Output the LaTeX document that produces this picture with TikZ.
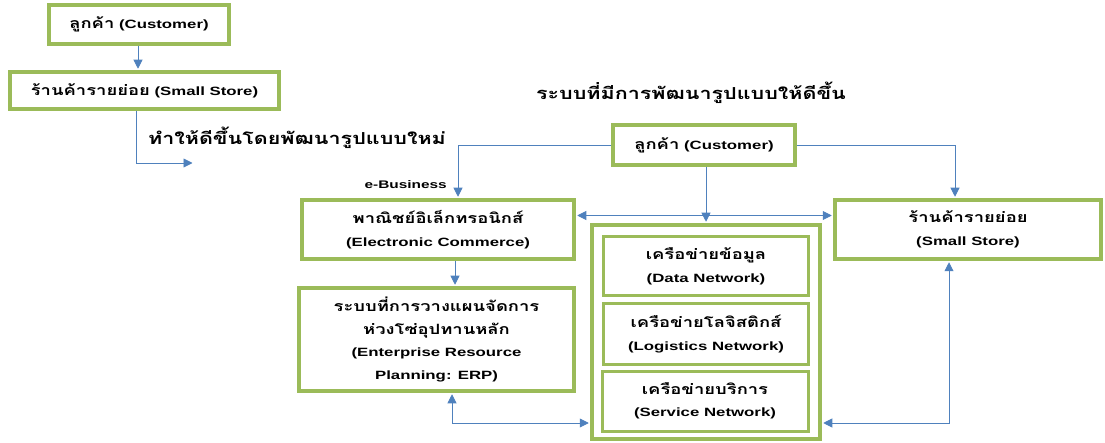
\documentclass[tikz,border=0pt]{standalone}
\usepackage{fontspec}
\setmainfont{Liberation Sans}[FakeStretch=1.4]
\newfontfamily\thai[Script=Thai,FakeStretch=1.3,Scale=1.18]{Loma}
\usetikzlibrary{arrows.meta,calc}
\definecolor{gr}{HTML}{9BBB59}
\definecolor{bl}{HTML}{4F81BD}
\begin{document}
\begin{tikzpicture}[x=1pt,y=-1pt,
 box/.style={draw=gr, line width=3.5pt, fill=white, align=center, inner sep=0pt,
   font=\bfseries\fontsize{12}{22.5}\selectfont},
 inbox/.style={box, line width=3pt},
 lbl/.style={inner sep=0pt, font=\bfseries\fontsize{14}{16}\selectfont},
 arr/.style={draw=bl, line width=0.9pt, -{Triangle[length=9pt,width=9pt]}, shorten >=1.5pt},
 darr/.style={draw=bl, line width=0.9pt, {Triangle[length=9pt,width=9pt]}-{Triangle[length=9pt,width=9pt]}, shorten >=1.5pt, shorten <=1.5pt}]
\useasboundingbox (0,0) rectangle (1105,443);
% left: old system
\node[box, minimum width=180pt, minimum height=39pt] (c1) at (139,24.5) {{\thai ลูกค้า} (Customer)};
\node[box, minimum width=269pt, minimum height=37pt] (s1) at (144.5,90.5) {{\thai ร้านค้ารายย่อย} (Small Store)};
\coordinate (t1) at (194,163);
\node[lbl, anchor=west] (txt1) at (148,138) {\thai ทำให้ดีขึ้นโดยพัฒนารูปแบบใหม่};
\node[lbl] (title) at (691,93) {\thai ระบบที่มีการพัฒนารูปแบบให้ดีขึ้น};
\draw[arr] ([xshift=-1pt]c1.south) -- ([xshift=-1pt]c1.south |- s1.north);
\draw[arr] ([xshift=-8.5pt]s1.south) |- (t1);
% right: improved system
\node[box, minimum width=182pt, minimum height=40pt] (c2) at (704,145) {{\thai ลูกค้า} (Customer)};
\node[box, minimum width=272pt, minimum height=59pt] (ec) at (438,229.5) {{\thai พาณิชย์อิเล็กทรอนิกส์}\\(Electronic Commerce)};
\node[box, minimum width=266pt, minimum height=59pt] (ss) at (968,229.5) {{\thai ร้านค้ารายย่อย}\\(Small Store)};
\node[box, minimum width=275pt, minimum height=103pt] (erp) at (436.5,339.5) {{\thai ระบบที่การวางแผนจัดการ}\\{\thai ห่วงโซ่อุปทานหลัก}\\(Enterprise Resource\\Planning: ERP)};
\node[box, minimum width=228pt, minimum height=214pt] (big) at (706,332) {};
\node[inbox, minimum width=205pt, minimum height=59pt] (data) at (706,266.5) {{\thai เครือข่ายข้อมูล}\\(Data Network)};
\node[inbox, minimum width=205pt, minimum height=60pt] (logi) at (706,334) {{\thai เครือข่ายโลจิสติกส์}\\(Logistics Network)};
\node[inbox, minimum width=206pt, minimum height=60pt] (serv) at (705,401) {{\thai เครือข่ายบริการ}\\(Service Network)};
\node[inner sep=0pt, anchor=east, font=\bfseries\fontsize{11}{13}\selectfont] (eb) at (447,185) {e-Business};
% connectors
\draw[arr] (c2.west) -| ([xshift=20pt]ec.north);
\draw[arr] (c2.east) -| ([xshift=-13pt]ss.north);
\draw[arr] ([xshift=2pt]c2.south) -- ([xshift=2pt]c2.south |- big.north);
\draw[darr] ([yshift=14pt]ec.east) -- ([yshift=14pt]ec.east -| ss.west);
\draw[arr] ([xshift=17pt]ec.south) -- ([xshift=17pt]ec.south |- erp.north);
\draw[darr] ([xshift=15.5pt]erp.south) |- ([yshift=-91pt]big.west);
\draw[darr] ([xshift=-19pt]ss.south) |- ([yshift=-91pt]big.east);
\end{tikzpicture}
\end{document}
